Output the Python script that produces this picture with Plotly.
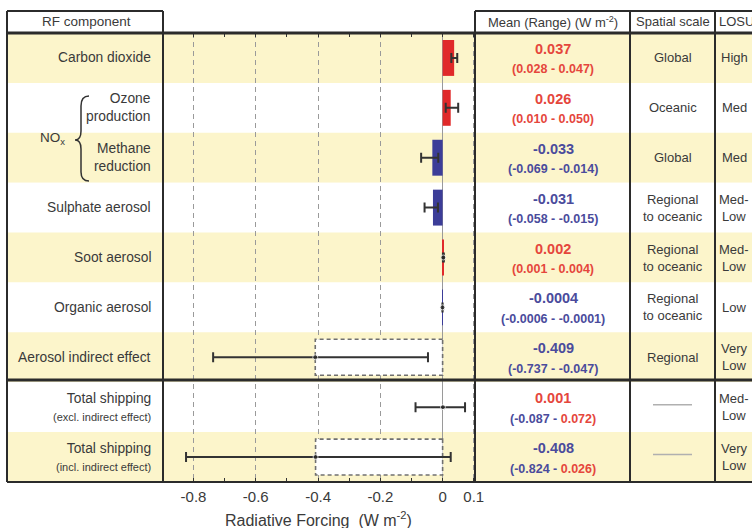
import plotly.graph_objects as go

# ---------------- data ----------------
components = ["Carbon dioxide", "Ozone<br>production", "Methane<br>reduction", "Sulphate aerosol",
              "Soot aerosol", "Organic aerosol", "Aerosol indirect effect", "Total shipping", "Total shipping"]
sub_labels = ["", "", "", "", "", "", "", "(excl. indirect effect)", "(incl. indirect effect)"]
mean_rf = [0.037, 0.026, -0.033, -0.031, 0.002, -0.0004, -0.409, 0.001, -0.408]
range_low = [0.028, 0.010, -0.069, -0.058, 0.001, -0.0006, -0.737, -0.087, -0.824]
range_high = [0.047, 0.050, -0.014, -0.015, 0.004, -0.0001, -0.047, 0.072, 0.026]
mean_text = ["0.037", "0.026", "-0.033", "-0.031", "0.002", "-0.0004", "-0.409", "0.001", "-0.408"]
low_text = ["0.028", "0.010", "-0.069", "-0.058", "0.001", "-0.0006", "-0.737", "-0.087", "-0.824"]
high_text = ["0.047", "0.050", "-0.014", "-0.015", "0.004", "-0.0001", "-0.047", "0.072", "0.026"]
spatial = ["Global", "Oceanic", "Global", "Regional<br>to oceanic", "Regional<br>to oceanic",
           "Regional<br>to oceanic", "Regional", "", ""]
losu = ["High", "Med", "Med", "Med-<br>Low", "Med-<br>Low", "Low", "Very<br>Low", "Med-<br>Low", "Very<br>Low"]
bar_rows = [0, 1, 2, 3, 4, 5]
box_rows = [6, 8]
dash_rows = [7, 8]
tick_vals = [-0.8, -0.6, -0.4, -0.2, 0, 0.1]
tick_text = ["-0.8", "-0.6", "-0.4", "-0.2", "0", "0.1"]
minor_vals = [-0.7, -0.5, -0.3, -0.1]

# ---------------- styling ----------------
W, H = 752, 528
RED_BAR, BLUE_BAR = "#e0292a", "#3c3d98"
RED_TXT, BLUE_TXT = "#e5463c", "#4a4b9c"
YELLOW = "#fcf5cb"
LINE = "#2b2b2b"
FONT = "Liberation Sans, Arial, sans-serif"
TXT = "#3a3a3a"


def px(x):
    return x / W


def py(y):
    return 1 - y / H


n = len(components)
rows = list(range(n))

fig = go.Figure()

# bars
fig.add_trace(go.Bar(
    y=bar_rows, x=[mean_rf[i] for i in bar_rows], orientation="h", width=0.72,
    marker=dict(color=[RED_BAR if mean_rf[i] > 0 else BLUE_BAR for i in bar_rows], line=dict(width=0)),
    hoverinfo="skip", showlegend=False))

# means with ranges
fig.add_trace(go.Scatter(
    x=mean_rf, y=rows, mode="markers",
    marker=dict(color="#222", size=[0, 0, 0, 0, 5, 5, 5, 5, 5]),
    error_x=dict(type="data", symmetric=False,
                 array=[h - m for h, m in zip(range_high, mean_rf)],
                 arrayminus=[m - l for m, l in zip(mean_rf, range_low)],
                 color="#333", thickness=2, width=5),
    hoverinfo="skip", showlegend=False))

shapes = []
# row bands
for i in rows:
    shapes.append(dict(type="rect", xref="paper", yref="y", x0=px(7), x1=1, y0=i - 0.5, y1=i + 0.5,
                       fillcolor=YELLOW if i % 2 == 0 else "white", line=dict(width=0), layer="below"))
# dashed boxes
for i in box_rows:
    shapes.append(dict(type="rect", xref="x", yref="y", x0=0, x1=mean_rf[i], y0=i - 0.36, y1=i + 0.36,
                       fillcolor="white", line=dict(color="#707070", width=1.6, dash="4px,3px"),
                       layer="between"))


# table lines
def hline(x0, x1, y, w=2):
    shapes.append(dict(type="line", xref="paper", yref="paper", x0=px(x0), x1=px(x1), y0=py(y), y1=py(y),
                       line=dict(color=LINE, width=w), layer="above"))


def vline(x, y0, y1, w=2):
    shapes.append(dict(type="line", xref="paper", yref="paper", x0=px(x), x1=px(x), y0=py(y0), y1=py(y1),
                       line=dict(color=LINE, width=w), layer="above"))


hline(7, 163, 11)
hline(475, 752, 11)
hline(7, 752, 33, 3)
hline(7, 752, 380, 3)
hline(7, 752, 482, 2)
vline(7, 11, 482)
vline(163, 11, 482)
vline(475, 11, 482)
vline(630, 11, 482)
vline(715, 11, 482)

# gray dashes in spatial scale column
for i in dash_rows:
    shapes.append(dict(type="line", xref="paper", yref="y", x0=px(653), x1=px(692), y0=i - 0.05, y1=i - 0.05,
                       line=dict(color="#b0b0b0", width=1.5), layer="above"))

# NOx brace
pts = "M {} {} Q {} {} {} {} L {} {} Q {} {} {} {} Q {} {} {} {} L {} {} Q {} {} {} {}"
coords = [(89, 96), (81, 96), (81, 106), (81, 131), (81, 140), (75, 140), (81, 140), (81, 149),
          (81, 172), (81, 181), (89, 181)]
vals = []
for (x, y) in coords:
    vals += [px(x), py(y)]
shapes.append(dict(type="path", xref="paper", yref="paper", path=pts.format(*vals),
                   line=dict(color="#333", width=1.5), layer="above"))

annotations = []


def ann(text, x, y, yref="paper", size=11.5, color=TXT, xanchor="center", **kw):
    annotations.append(dict(text=text, x=x, y=y, xref="paper", yref=yref, showarrow=False,
                            xanchor=xanchor, yanchor="middle",
                            font=dict(family=FONT, size=size, color=color), **kw))


# headers
ann("RF component", px(86), py(22), size=13.5)
ann("Mean (Range) (W m<sup>-2</sup>)", px(553), py(22), size=13)
ann("Spatial scale", px(672.5), py(22), size=13)
ann("LOSU", px(717), py(22), size=13, xanchor="left")

# left labels
for i in rows:
    label = components[i]
    if sub_labels[i]:
        label = label + "<br><span style='font-size:11px'>" + sub_labels[i] + "</span>"
    ann(label, px(153), i, yref="y", size=13.8, xanchor="right", align="right")
ann("NO<sub>x</sub>", px(52), py(139), size=13.5)


def col(v):
    return RED_TXT if v > 0 else BLUE_TXT


# mean / range
for i in rows:
    ann("<b>" + mean_text[i] + "</b>", px(553), i - 0.18, yref="y", size=14.5, color=col(mean_rf[i]))
    rng = ("<span style='color:%s'>(%s - </span><span style='color:%s'>%s)</span>"
           % (col(range_low[i]), low_text[i], col(range_high[i]), high_text[i]))
    ann("<b>" + rng + "</b>", px(553), i + 0.23, yref="y", size=12.5)

# spatial scale + LOSU
for i in rows:
    if spatial[i]:
        ann(spatial[i], px(672.5), i, yref="y", size=13)
    ann(losu[i], px(734), i, yref="y", size=13)

# axis title
ann("Radiative Forcing  (W m<sup>-2</sup>)", px(318), py(519), size=16)

fig.update_layout(
    width=W, height=H, margin=dict(l=0, r=0, t=0, b=0),
    template="none", paper_bgcolor="white", plot_bgcolor="rgba(0,0,0,0)",
    barmode="overlay", shapes=shapes, annotations=annotations, showlegend=False,
    font=dict(family=FONT, color=TXT),
    xaxis=dict(domain=[px(163), px(475)], range=[-0.898, 0.104], automargin=False,
               tickvals=tick_vals, ticktext=tick_text, tickfont=dict(size=15, color=TXT),
               ticks="inside", ticklen=4, tickcolor="#333", mirror="ticks", showline=False,
               ticklabelstandoff=4,
               showgrid=True, gridcolor="#9a9a9a", gridwidth=1.3, griddash="5px,4px",
               zeroline=True, zerolinecolor="#9a9a9a", zerolinewidth=1,
               minor=dict(tickvals=minor_vals, ticks="inside", ticklen=4, tickcolor="#333", showgrid=False)),
    yaxis=dict(domain=[py(482), py(33)], range=[n - 0.5, -0.5], visible=False, automargin=False,
               showgrid=False, zeroline=False),
)

fig.write_html("out.html", config={"displayModeBar": False},
               post_script="document.body.style.margin='0px';")
